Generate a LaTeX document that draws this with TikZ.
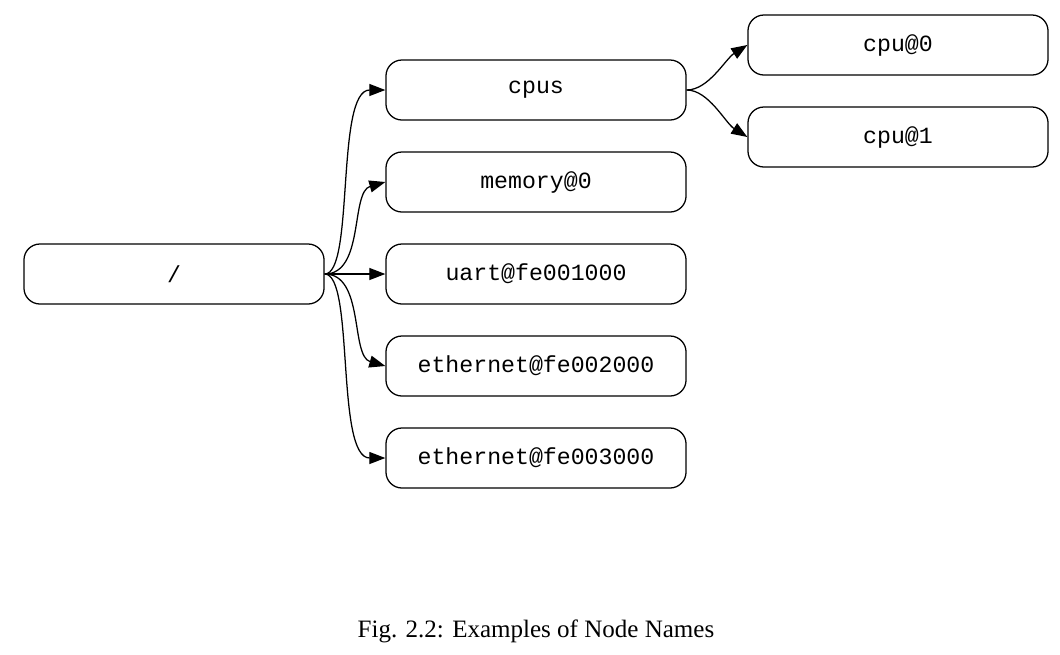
\documentclass[tikz,border=0pt]{standalone}
\usepackage{fontspec}
\setmainfont{Liberation Serif}
\setmonofont{Liberation Mono}
\usetikzlibrary{arrows.meta,positioning}

\tikzset{
  dtnode/.style={draw,line width=0.9pt,rounded corners=0.4cm,minimum width=7.5cm,
    minimum height=1.5cm,font=\fontsize{16.5}{18}\selectfont\ttfamily},
  dtedge/.style={line width=0.9pt,-{Triangle[length=0.4cm,width=0.3cm]}}
}

\begin{document}
\begin{tikzpicture}[x=0.025cm,y=-0.025cm]
\useasboundingbox (0,0) rectangle (1060,654);
% tree nodes
\node[dtnode] (root) at (174,274) {/};
\node[dtnode] (cpus) at (536,90) {cpus};
\node[dtnode] (mem) at (536,182) {memory@0};
\node[dtnode] (uart) at (536,274) {uart@fe001000};
\node[dtnode] (eth2) at (536,366) {ethernet@fe002000};
\node[dtnode] (eth3) at (536,458) {ethernet@fe003000};
\node[dtnode] (cpu0) at (898,45) {cpu@0};
\node[dtnode] (cpu1) at (898,137) {cpu@1};
% edges
\draw[dtedge] (root.east) .. controls +(30,0) and +(-50,0) .. (cpus.west);
\draw[dtedge] (root.east) .. controls +(40,0) and +(-35,10) .. (mem.west);
\draw[dtedge] (root.east) -- (uart.west);
\draw[dtedge] (root.east) .. controls +(40,0) and +(-35,-10) .. (eth2.west);
\draw[dtedge] (root.east) .. controls +(30,0) and +(-50,0) .. (eth3.west);
\draw[dtedge] (cpus.east) .. controls +(22,0) and +(-22,14) .. (cpu0.west);
\draw[dtedge] (cpus.east) .. controls +(22,0) and +(-22,-14) .. (cpu1.west);
% caption
\node[font=\fontsize{17.8}{20}\selectfont] (cap) at (536,631) {Fig. 2.2: Examples of Node Names};
\end{tikzpicture}
\end{document}
